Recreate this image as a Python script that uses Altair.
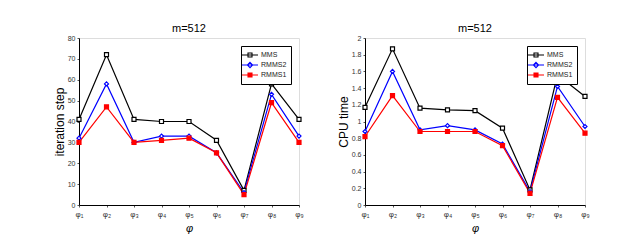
import altair as alt
import pandas as pd

phi = ["φ₁", "φ₂", "φ₃", "φ₄", "φ₅", "φ₆", "φ₇", "φ₈", "φ₉"]
series = ["MMS", "RMMS2", "RMMS1"]
colors = ["#000000", "#0000ff", "#ff0000"]
marker_shape = {"MMS": "square", "RMMS2": "diamond", "RMMS1": "square"}
marker_fill = {"MMS": "#ffffff", "RMMS2": "#ffffff", "RMMS1": "#ff0000"}

iter_mms = [41, 72, 41, 40, 40, 31, 7, 58, 41]
iter_rmms2 = [32, 58, 30, 33, 33, 25, 6, 53, 33]
iter_rmms1 = [30, 47, 30, 31, 32, 25, 5, 49, 30]

cpu_mms = [1.17, 1.87, 1.16, 1.14, 1.13, 0.92, 0.18, 1.56, 1.30]
cpu_rmms2 = [0.88, 1.60, 0.90, 0.95, 0.90, 0.73, 0.16, 1.42, 0.94]
cpu_rmms1 = [0.82, 1.31, 0.88, 0.88, 0.88, 0.71, 0.14, 1.29, 0.86]

FONT = "Liberation Sans"

# legend glyphs: a short line with the series marker in the middle
LINE = "M-2,0H2"
SQ = "M-0.5,-0.5H0.5V0.5H-0.5Z"
DI = "M0,-0.65L0.65,0L0,0.65L-0.65,0Z"
legend_shape = (
    f"datum.value == 'RMMS2' ? '{LINE}{DI}' : '{LINE}{SQ}'"
)
legend_fill = "datum.value == 'RMMS1' ? '#ff0000' : '#ffffff'"

shp_keys = sorted(series)
shp_range = [marker_shape[k] for k in shp_keys]
fil_range = [marker_fill[k] for k in shp_keys]


def panel(vals, ytitle, ymax, ystep, title):
    rows = []
    for si, (s, v) in enumerate(zip(series, vals)):
        for p, y in zip(phi, v):
            rows.append({"phi": p, "series": s, "shp": s, "fil": s, "value": y, "ord": si})
    df = pd.DataFrame(rows)
    nt = int(round(ymax / ystep))
    ticks = [round(i * ystep, 4) for i in range(nt + 1)]
    base = alt.Chart(df).encode(
        x=alt.X("phi:N", sort=phi,
                scale=alt.Scale(padding=0),
                axis=alt.Axis(title="φ", labelAngle=0, labelFontSize=8,
                              titleFontSize=11, titleFontStyle="italic",
                              titleFontWeight="normal", labelColor="#333333",
                              tickSize=2, tickColor="#555555",
                              domainColor="#000000", labelPadding=3,
                              titlePadding=4, labelFont=FONT, titleFont=FONT)),
        y=alt.Y("value:Q",
                scale=alt.Scale(domain=[0, ymax], nice=False, zero=True),
                axis=alt.Axis(title=ytitle, values=ticks, labelFontSize=7,
                              labelExpr="format(datum.value, '~g')",
                              titleFontSize=12, titleFontWeight="normal",
                              tickSize=2, tickColor="#555555", grid=False,
                              domainColor="#000000", labelPadding=2,
                              titlePadding=1, labelFont=FONT, titleFont=FONT,
                              labelColor="#333333")),
        color=alt.Color("series:N", scale=alt.Scale(domain=series, range=colors),
                        legend=alt.Legend(title=None, orient="top-right", offset=8,
                                          fillColor="white", strokeColor="#000000",
                                          padding=4, labelFontSize=7, labelFont=FONT,
                                          symbolSize=64, rowPadding=0,
                                          symbolStrokeWidth=1.1, labelOffset=6,
                                          labelColor="#222222",
                                          symbolType=alt.ExprRef(expr=legend_shape),
                                          symbolFillColor=alt.ExprRef(expr=legend_fill))),
        order=alt.Order("ord:Q"),
    )
    lines = base.mark_line(strokeWidth=1.2).encode(detail="series:N")
    pts = base.mark_point(size=16, strokeWidth=1.2, opacity=1).encode(
        shape=alt.Shape("shp:N", scale=alt.Scale(range=shp_range), legend=None),
        fill=alt.Fill("fil:N", scale=alt.Scale(range=fil_range), legend=None),
    )
    return alt.layer(lines, pts).properties(
        width=220, height=167,
        title=alt.TitleParams(title, fontSize=11, fontWeight="normal", font=FONT, offset=0),
    )


left = panel([iter_mms, iter_rmms2, iter_rmms1], "iteration step", 80, 10, "m=512")
right = panel([cpu_mms, cpu_rmms2, cpu_rmms1], "CPU time", 2, 0.2, "m=512")

chart = alt.hconcat(left, right, spacing=32).resolve_scale(
    color="independent", shape="independent", fill="independent"
).configure_view(stroke="#000000", strokeWidth=1).properties(
    padding={"left": 44, "top": 14, "right": 0, "bottom": 0}
).configure(background="white")

chart.save("out.html", embed_options={"renderer": "svg", "actions": False})
